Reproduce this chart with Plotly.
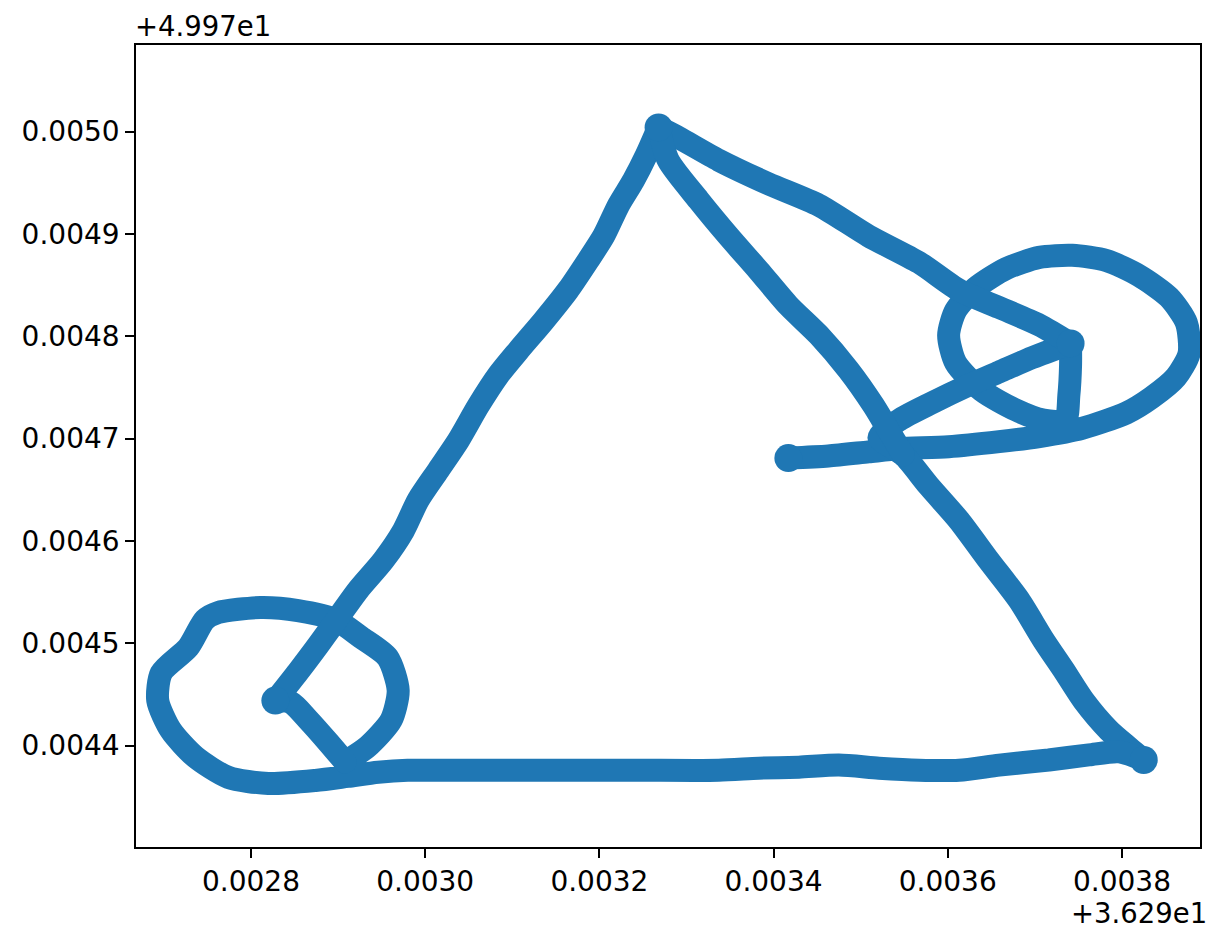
import plotly.graph_objects as go

# GPS track, stored as offsets from the reference coordinate (lon 36.29, lat 49.97)
LON_OFFSET_LABEL = "+3.629e1"
LAT_OFFSET_LABEL = "+4.997e1"

# start point -> east leg -> eastern loop -> short climb to the east vertex
east_loop_x = [0.003417, 0.003463, 0.003509, 0.003544, 0.003601, 0.003659, 0.003705, 0.003754,
               0.003805, 0.003834, 0.003862, 0.003877, 0.003874, 0.003854, 0.003820, 0.003782,
               0.003743, 0.003705, 0.003667, 0.003632, 0.003609, 0.003601, 0.003609, 0.003639,
               0.003678, 0.003710, 0.003735, 0.003739, 0.003741, 0.003741]
east_loop_y = [0.004681, 0.004683, 0.004687, 0.004690, 0.004692, 0.004697, 0.004702, 0.004710,
               0.004725, 0.004740, 0.004760, 0.004783, 0.004813, 0.004838, 0.004859, 0.004874,
               0.004879, 0.004877, 0.004866, 0.004847, 0.004825, 0.004801, 0.004774, 0.004747,
               0.004728, 0.004718, 0.004718, 0.004742, 0.004772, 0.004793]

# east vertex -> south-west to the crossing
east_spur_x = [0.003697, 0.003659, 0.003621, 0.003582, 0.003544, 0.003521]
east_spur_y = [0.004779, 0.004765, 0.004751, 0.004735, 0.004718, 0.004701]

# crossing -> south-east corner
se_leg_x = [0.003549, 0.003578, 0.003613, 0.003647, 0.003682, 0.003710, 0.003733, 0.003756,
            0.003785, 0.003808, 0.003825]
se_leg_y = [0.004684, 0.004654, 0.004620, 0.004581, 0.004542, 0.004503, 0.004474, 0.004444,
            0.004415, 0.004398, 0.004386]

# southern leg heading west
south_leg_x = [0.003797, 0.003762, 0.003716, 0.003659, 0.003613, 0.003567, 0.003521, 0.003475,
               0.003429, 0.003383, 0.003337, 0.003245, 0.003153, 0.003061, 0.003015, 0.002980,
               0.002946, 0.002911]
south_leg_y = [0.004394, 0.004391, 0.004386, 0.004381, 0.004376, 0.004376, 0.004378, 0.004381,
               0.004379, 0.004378, 0.004376, 0.004376, 0.004376, 0.004376, 0.004376, 0.004376,
               0.004374, 0.004370]

# western loop
west_loop_x = [0.002874, 0.002820, 0.002774, 0.002736, 0.002708, 0.002693, 0.002697, 0.002728,
               0.002747, 0.002762, 0.002811, 0.002854, 0.002897, 0.002926, 0.002957, 0.002969,
               0.002961, 0.002934, 0.002908]
west_loop_y = [0.004366, 0.004363, 0.004369, 0.004389, 0.004415, 0.004444, 0.004471, 0.004496,
               0.004523, 0.004530, 0.004535, 0.004532, 0.004523, 0.004506, 0.004486, 0.004454,
               0.004425, 0.004399, 0.004384]

# short hop to the western vertex
west_hop_x = [0.002889, 0.002866, 0.002846, 0.002828]
west_hop_y = [0.004403, 0.004425, 0.004442, 0.004444]

# western vertex -> north summit
nw_leg_x = [0.002854, 0.002877, 0.002900, 0.002923, 0.002952, 0.002975, 0.002992, 0.003015,
            0.003038, 0.003061, 0.003084, 0.003107, 0.003136, 0.003164, 0.003187, 0.003205,
            0.003222, 0.003239, 0.003254, 0.003268]
nw_leg_y = [0.004472, 0.004498, 0.004525, 0.004552, 0.004581, 0.004610, 0.004640, 0.004669,
            0.004698, 0.004732, 0.004762, 0.004786, 0.004815, 0.004845, 0.004874, 0.004898,
            0.004928, 0.004952, 0.004977, 0.005004]

# summit -> east vertex along the northern edge
ne_leg_x = [0.003291, 0.003337, 0.003394, 0.003452, 0.003509, 0.003567, 0.003613, 0.003659,
            0.003705, 0.003741]
ne_leg_y = [0.004994, 0.004972, 0.004949, 0.004928, 0.004898, 0.004872, 0.004845, 0.004828,
            0.004811, 0.004793]

# summit -> crossing (second pass)
summit_descent_x = [0.003268, 0.003279, 0.003314, 0.003348, 0.003383, 0.003417, 0.003452,
                    0.003486, 0.003515, 0.003532, 0.003549]
summit_descent_y = [0.005004, 0.004972, 0.004933, 0.004898, 0.004864, 0.004830, 0.004801,
                    0.004767, 0.004732, 0.004708, 0.004684]

x_ticks = [0.0028, 0.0030, 0.0032, 0.0034, 0.0036, 0.0038]
y_ticks = [0.0043, 0.0044, 0.0045, 0.0046, 0.0047, 0.0048, 0.0049, 0.0050]

# legs are drawn as separate pieces so that the turning points stay sharp
pieces = [
    (east_loop_x, east_loop_y),
    ([east_loop_x[-1]] + east_spur_x + se_leg_x, [east_loop_y[-1]] + east_spur_y + se_leg_y),
    ([se_leg_x[-1]] + south_leg_x + west_loop_x, [se_leg_y[-1]] + south_leg_y + west_loop_y),
    ([west_loop_x[-1]] + west_hop_x, [west_loop_y[-1]] + west_hop_y),
    ([west_hop_x[-1]] + nw_leg_x, [west_hop_y[-1]] + nw_leg_y),
    ([nw_leg_x[-1]] + ne_leg_x, [nw_leg_y[-1]] + ne_leg_y),
    (summit_descent_x, summit_descent_y),
]

# fixes where the receiver lingered (start, summit, east vertex, SE corner, west vertex)
stops_x = [east_loop_x[0], nw_leg_x[-1], east_loop_x[-1], se_leg_x[-1], west_hop_x[-1]]
stops_y = [east_loop_y[0], nw_leg_y[-1], east_loop_y[-1], se_leg_y[-1], west_hop_y[-1]]

BLUE = "#1f77b4"
WIDTH = 23
FONT = dict(family="DejaVu Sans", size=28, color="black")
OFFSET_FONT = dict(family="DejaVu Sans", size=27.5, color="black")

fig = go.Figure()
for px_, py_ in pieces:
    fig.add_trace(
        go.Scatter(
            x=px_, y=py_, mode="lines",
            line=dict(color=BLUE, width=WIDTH, shape="spline", smoothing=0.7),
            hoverinfo="skip", showlegend=False,
        )
    )
fig.add_trace(
    go.Scatter(
        x=stops_x, y=stops_y, mode="markers",
        marker=dict(color=BLUE, size=WIDTH + 5, line=dict(width=0)),
        hoverinfo="skip", showlegend=False,
    )
)

axis_common = dict(
    showgrid=False, zeroline=False, showline=True, linecolor="black", linewidth=1.6,
    mirror=True, ticks="outside", ticklen=9, tickwidth=1.6, tickcolor="black",
    tickfont=FONT, tickformat=".4f",
)
fig.update_xaxes(range=[0.002668, 0.0038896], tickvals=x_ticks, **axis_common)
fig.update_yaxes(range=[0.0043010, 0.0050845], tickvals=y_ticks, **axis_common)

fig.add_annotation(text=LAT_OFFSET_LABEL, xref="paper", yref="paper", x=0, y=1,
                   xanchor="left", yanchor="bottom", yshift=2, xshift=-2,
                   showarrow=False, font=OFFSET_FONT, borderpad=0)
fig.add_annotation(text=LON_OFFSET_LABEL, xref="paper", yref="paper", x=1, y=0,
                   xanchor="right", yanchor="top", yshift=-49, xshift=8,
                   showarrow=False, font=OFFSET_FONT, borderpad=0)

fig.update_layout(
    width=1215, height=932, margin=dict(l=136, r=15, t=45, b=85),
    paper_bgcolor="white", plot_bgcolor="white", font=FONT,
)

# round caps and joins on the track strokes
ROUND_STROKES = """
var gd = document.getElementById('{plot_id}');
function roundStrokes() {
  gd.querySelectorAll('path.js-line').forEach(function (p) {
    p.style.strokeLinejoin = 'round';
    p.style.strokeLinecap = 'round';
  });
}
roundStrokes();
gd.on('plotly_afterplot', roundStrokes);
"""

fig.write_html("out.html", post_script=ROUND_STROKES)
